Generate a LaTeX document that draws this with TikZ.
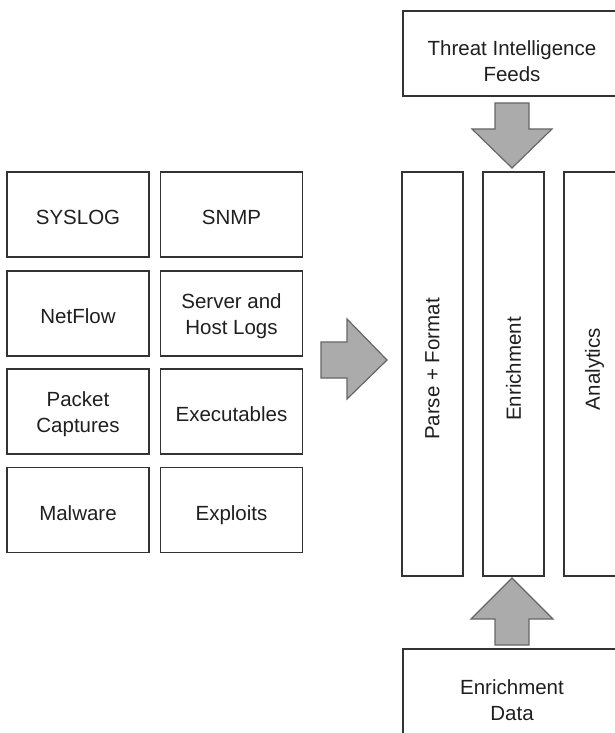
\documentclass[tikz,border=0pt]{standalone}
\usepackage{fontspec}
\setmainfont{Liberation Sans}
\begin{document}
\begin{tikzpicture}[x=1pt,y=-1pt,
  src/.style={draw=black!80, line width=1.2pt, minimum width=142pt, minimum height=85pt, align=center, inner sep=0pt, text=black!88, font=\fontsize{20.5}{26}\selectfont},
  one/.style={text height=20pt, text depth=0pt},
  col/.style={draw=black!80, line width=1.2pt, minimum width=61pt, minimum height=404pt, inner sep=0pt},
  bigbox/.style={draw=black!80, line width=1.2pt, minimum width=218pt, inner sep=0pt},
  lbl/.style={align=center, inner sep=0pt, text=black!88, font=\fontsize{20.5}{26}\selectfont},
  blockarrow/.style={fill=black!33, draw=black!60, line width=1.2pt, line join=miter}]
\useasboundingbox (0,0) rectangle (615,733);
\clip (0,0) rectangle (615,733);
% source boxes
\node[src, one] (syslog) at (78,214.5) {SYSLOG};
\node[src, one] (snmp) at (231.5,214.5) {SNMP};
\node[src, one] (netflow) at (78,313.5) {NetFlow};
\node[src] (server) at (231.5,313.5) {};
\node[lbl] (servert) at (231.5,316) {Server and\\Host Logs};
\node[src] (packet) at (78,411.5) {};
\node[lbl] (packett) at (78,414) {Packet\\Captures};
\node[src, one] (exec) at (231.5,411.5) {Executables};
\node[src, one] (malware) at (78,510) {Malware};
\node[src, one] (exploits) at (231.5,510) {Exploits};
% processing columns
\node[col] (parse) at (432.5,374) {};
\node[col] (enrich) at (513.5,374) {};
\node[col] (analytics) at (594.5,374) {};
\node[lbl, rotate=90] (parset) at (432.5,369) {Parse + Format};
\node[lbl, rotate=90] (enricht) at (513.5,369) {Enrichment};
\node[lbl, rotate=90] (analyticst) at (594.5,369) {Analytics};
% top and bottom boxes
\node[bigbox, minimum height=85pt] (threat) at (512,53.5) {};
\node[lbl] (threatt) at (512,61) {Threat Intelligence\\Feeds};
\node[bigbox, minimum height=99pt] (edata) at (512,698.5) {};
\node[lbl] (edatat) at (512,700) {Enrichment\\Data};
% block arrows
\draw[blockarrow] (321,342) -- (347,342) -- (347,319) -- (387,360) -- (347,399) -- (347,378) -- (321,378) -- cycle;
\draw[blockarrow] (495,103) -- (529,103) -- (529,129) -- (552,129) -- (512,168) -- (472,129) -- (495,129) -- cycle;
\draw[blockarrow] (495,645) -- (529,645) -- (529,619) -- (553,619) -- (512,578) -- (471,619) -- (495,619) -- cycle;
\end{tikzpicture}
\end{document}
